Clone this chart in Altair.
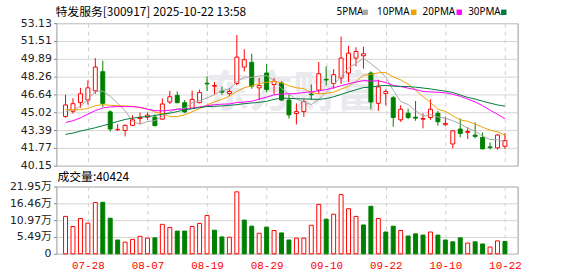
import json
import altair as alt
import pandas as pd

# ---------------- data ----------------
dates = ["07-23", "07-24", "07-25", "07-28", "07-29", "07-30", "07-31",
         "08-01", "08-04", "08-05", "08-06", "08-07", "08-08", "08-11", "08-12",
         "08-13", "08-14", "08-15", "08-18", "08-19", "08-20", "08-21", "08-22",
         "08-25", "08-26", "08-27", "08-28", "08-29",
         "09-01", "09-02", "09-03", "09-04", "09-05", "09-08", "09-09", "09-10",
         "09-11", "09-12", "09-15", "09-16", "09-17", "09-18", "09-19", "09-22",
         "09-23", "09-24", "09-25", "09-26", "09-29", "09-30",
         "10-09", "10-10", "10-13", "10-14", "10-15", "10-16", "10-17", "10-20",
         "10-21", "10-22"]

opens = [44.63, 45.11, 45.89, 46.13, 46.97, 48.71, 45.05, 43.42, 43.36, 43.82,
         44.45, 44.57, 44.57, 44.39, 45.95, 46.55, 45.89, 45.38, 45.89, 47.66,
         47.39, 46.94, 46.73, 47.63, 49.13, 49.56, 47.24, 48.59, 47.54, 47.69,
         46.13, 44.90, 45.08, 46.67, 47.03, 48.02, 47.63, 48.14, 48.59, 49.95,
         50.16, 48.59, 45.83, 46.73, 46.34, 44.33, 44.93, 44.57, 44.39, 44.54,
         44.93, 43.88, 42.13, 43.49, 43.18, 42.94, 42.73, 41.86, 41.77, 41.92]
highs = [46.61, 46.28, 47.24, 47.93, 49.95, 49.71, 45.20, 43.94, 43.91, 44.75,
         44.99, 44.99, 44.81, 46.28, 46.97, 46.91, 46.13, 47.00, 47.09, 48.29,
         47.78, 47.39, 47.21, 52.05, 50.76, 50.34, 48.14, 49.40, 48.14, 47.84,
         46.64, 45.83, 46.19, 47.54, 49.59, 49.19, 48.95, 51.90, 51.06, 50.94,
         51.00, 48.74, 47.99, 47.09, 46.49, 45.65, 45.35, 46.04, 44.93, 46.19,
         45.14, 44.63, 43.39, 44.45, 43.64, 44.09, 43.18, 42.28, 43.03, 43.12]
lows = [44.51, 44.90, 45.41, 45.71, 46.70, 45.50, 43.27, 43.33, 42.82, 43.79,
        43.94, 44.33, 43.76, 44.33, 45.77, 45.83, 44.93, 45.35, 45.83, 46.94,
        46.64, 46.61, 46.49, 47.48, 48.74, 47.15, 46.13, 46.85, 46.64, 46.04,
        44.45, 43.91, 44.60, 46.13, 46.70, 47.45, 47.15, 47.60, 47.78, 49.19,
        48.98, 45.29, 45.14, 45.65, 43.70, 44.15, 44.39, 44.24, 43.55, 44.33,
        43.79, 43.79, 41.74, 42.73, 42.58, 42.64, 41.65, 41.62, 41.62, 41.68]
closes = [45.68, 45.80, 46.70, 47.24, 49.13, 45.83, 43.49, 43.46, 43.82, 44.33,
          44.54, 44.75, 43.79, 45.77, 46.43, 45.89, 45.05, 46.19, 46.82, 47.60,
          47.45, 46.85, 46.91, 50.04, 49.80, 47.39, 47.45, 47.09, 47.84, 46.13,
          44.78, 45.08, 45.98, 46.61, 48.53, 47.96, 48.44, 49.95, 50.40, 50.55,
          50.34, 45.95, 47.33, 46.91, 44.54, 45.29, 44.54, 44.48, 44.45, 45.29,
          44.15, 44.00, 43.33, 43.09, 43.27, 42.82, 41.68, 41.80, 42.94, 42.43]
# volume in 万手
volumes = [12.2, 8.9, 11.5, 10.0, 16.7, 16.8, 11.6, 4.5, 3.8, 4.7,
           5.7, 5.1, 5.2, 9.6, 8.6, 7.4, 7.4, 8.9, 9.9, 12.5,
           7.7, 5.5, 5.4, 20.2, 11.0, 9.0, 6.7, 8.7, 7.6, 6.8,
           4.5, 5.1, 5.1, 9.3, 16.1, 11.3, 12.9, 19.3, 14.7, 12.2,
           9.4, 15.5, 11.5, 7.1, 9.0, 7.6, 5.8, 6.5, 6.1, 7.1,
           6.1, 4.5, 3.9, 5.2, 3.5, 3.9, 3.2, 2.2, 4.2, 4.0424]

# moving-average values before the window has enough visible closes
ma5_head = [45.11, 45.20, 45.56, 46.16]
ma10_head = [45.29, 45.22, 45.26, 45.35, 45.62, 45.71, 45.65, 45.62, 45.59]
ma20_head = [44.09, 44.24, 44.51, 44.84, 45.17, 45.41, 45.50, 45.53, 45.53, 45.53,
             45.47, 45.29, 45.17, 45.14, 45.20, 45.29, 45.29, 45.38, 45.50]
ma30_head = [43.00, 43.12, 43.30, 43.45, 43.61, 43.79, 43.97, 44.18, 44.36, 44.48,
             44.57, 44.63, 44.72, 44.84, 44.93, 45.08, 45.23, 45.35, 45.44, 45.53,
             45.56, 45.59, 45.65, 45.71, 45.80, 45.86, 45.92, 46.01, 46.19]

price_ticks = [53.13, 51.51, 49.89, 48.26, 46.64, 45.02, 43.39, 41.77, 40.15]
vol_ticks = [0, 5.49, 10.97, 16.46, 21.95]
date_tick_idx = [3, 11, 19, 27, 35, 43, 51, 59]

title_text = "特发服务[300917] 2025-10-22 13:58"
vol_title = "成交量:40424"
ma_names = ["5PMA", "10PMA", "20PMA", "30PMA"]
ma_colors = ["#a8a8a8", "#f0a000", "#ff00ff", "#007a3d"]

RED = "#ff0000"
GREEN = "#008000"
NUM_FONT = "DejaVu Sans, Noto Sans CJK SC"
CJK_FONT = "Noto Sans CJK SC"

# ---------------- frames ----------------
n = len(dates)
df = pd.DataFrame({"i": range(n), "date": dates, "open": opens, "high": highs,
                   "low": lows, "close": closes, "vol": volumes})
df["dir"] = ["up" if c >= o else "down" for o, c in zip(opens, closes)]
prev_close = df["close"].shift(1).fillna(df["open"])
df["vdir"] = ["up" if c >= p else "down" for c, p in zip(df["close"], prev_close)]


def moving(period, head):
    rolled = df["close"].rolling(period).mean()
    return list(head) + list(rolled.iloc[len(head):])


ma_rows = []
for name, period, head in zip(ma_names, [5, 10, 20, 30], [ma5_head, ma10_head, ma20_head, ma30_head]):
    for i, v in enumerate(moving(period, head)):
        ma_rows.append({"i": i, "name": name, "value": round(v, 3)})
df_ma = pd.DataFrame(ma_rows)

W = 466
H_MAIN = 144
H_VOL = 68

xscale = alt.Scale(domain=[-0.56, 60.04], nice=False, zero=False)
dir_stroke = alt.Scale(domain=["up", "down"], range=[RED, GREEN])
dir_fill = alt.Scale(domain=["up", "down"], range=["#ffffff", GREEN])

x_axis_main = alt.Axis(values=date_tick_idx, labels=False, ticks=False, domain=False,
                       grid=True, gridDash=[4, 4], gridColor="#cfcfcf", title=None)
yscale = alt.Scale(domain=[40.15, 53.13], nice=False, zero=False)
y_axis = alt.Axis(values=price_ticks, format=".2f", grid=True, gridColor="#d4d4d4",
                  tickColor="#888888", tickSize=3, domain=False, labelFont=NUM_FONT,
                  labelFontSize=11, labelColor="#222222", labelPadding=2, title=None,
                  labelFlush=False, labelOverlap=False)


def xm():
    return alt.X("i:Q", scale=xscale, axis=x_axis_main)


def ym(field):
    return alt.Y(field, scale=yscale, axis=y_axis)


watermark = alt.Chart(pd.DataFrame({"t": ["东方财富"]})).mark_text(
    font=CJK_FONT, fontSize=44, fontWeight="bold", color="#e9e9ee", align="center", baseline="middle"
).encode(x=alt.value(239), y=alt.value(72), text="t:N")

wick = alt.Chart(df).mark_rule(strokeWidth=1).encode(
    x=xm(), y=ym("low:Q"), y2="high:Q",
    color=alt.Color("dir:N", scale=dir_stroke, legend=None),
)
body = alt.Chart(df).mark_bar(size=4, strokeWidth=1).encode(
    x=xm(), y=ym("open:Q"), y2="close:Q",
    stroke=alt.Stroke("dir:N", scale=dir_stroke, legend=None),
    fill=alt.Fill("dir:N", scale=dir_fill, legend=None),
)
lines = alt.Chart(df_ma).mark_line(strokeWidth=1).encode(
    x=xm(), y=ym("value:Q"),
    color=alt.Color("name:N", scale=alt.Scale(domain=ma_names, range=ma_colors), legend=None),
)

title = alt.Chart(pd.DataFrame({"t": [title_text]})).mark_text(
    font=CJK_FONT, fontSize=12, align="left", baseline="middle", color="#000000"
).encode(x=alt.value(-1), y=alt.value(-11), text="t:N")

legend_layers = []
leg_text_x = [283, 324, 370, 416]
leg_box_x = [312, 361, 407, 452]
for name, col, tx, bx in zip(ma_names, ma_colors, leg_text_x, leg_box_x):
    legend_layers.append(
        alt.Chart(pd.DataFrame({"t": [name]})).mark_text(
            font="Noto Sans", fontSize=10, align="left", baseline="middle", color="#000000"
        ).encode(x=alt.value(tx), y=alt.value(-11), text="t:N")
    )
    legend_layers.append(
        alt.Chart(pd.DataFrame({"t": [name]})).mark_square(size=30, color=col, opacity=1)
        .encode(x=alt.value(bx), y=alt.value(-11))
    )

main = alt.layer(watermark, wick, body, lines, title, *legend_layers).resolve_scale(
    color="independent", stroke="independent", fill="independent"
).properties(width=W, height=H_MAIN)

# ---------------- volume ----------------
label_expr = json.dumps(dates) + "[datum.value]"
x_axis_vol = alt.Axis(values=date_tick_idx, labelExpr=label_expr, labelColor=RED,
                      labelFont="Liberation Mono", labelFontSize=11, ticks=False,
                      domain=False, grid=True, gridDash=[4, 4], gridColor="#cfcfcf",
                      labelFlush=False, labelOverlap=False, labelPadding=6, title=None)
vol_axis = alt.Axis(values=vol_ticks, format=".2f",
                    labelExpr="datum.value < 0.001 ? '' : datum.label + '万'",
                    grid=True, gridColor="#d4d4d4", tickColor="#888888", tickSize=3,
                    domain=False, labelFont=NUM_FONT, labelFontSize=11, labelColor="#222222",
                    labelPadding=2, title=None, labelFlush=False, labelOverlap=False)
vscale = alt.Scale(domain=[0, 21.95], nice=False)

vbars = alt.Chart(df).mark_bar(size=4, strokeWidth=1).encode(
    x=alt.X("i:Q", scale=xscale, axis=x_axis_vol),
    y=alt.Y("vol:Q", scale=vscale, axis=vol_axis),
    stroke=alt.Stroke("vdir:N", scale=dir_stroke, legend=None),
    fill=alt.Fill("vdir:N", scale=dir_fill, legend=None),
)
zero_label = alt.Chart(pd.DataFrame({"v": [0], "t": ["0"]})).mark_text(
    font=NUM_FONT, fontSize=11, align="right", baseline="middle", color="#222222"
).encode(x=alt.value(-5), y=alt.Y("v:Q", scale=vscale, axis=vol_axis), text="t:N")
vtitle = alt.Chart(pd.DataFrame({"t": [vol_title]})).mark_text(
    font=CJK_FONT, fontSize=12, align="left", baseline="middle", color="#000000"
).encode(x=alt.value(1), y=alt.value(-10), text="t:N")

vol = alt.layer(vbars, zero_label, vtitle).properties(width=W, height=H_VOL)

chart = alt.vconcat(main, vol, spacing=21, bounds="flush").properties(
    padding={"left": 9, "top": 4, "right": 56, "bottom": 0},
    background="#ffffff",
).configure_view(stroke="#999999", strokeWidth=1).configure_axis(
    labelFlush=False, labelOverlap=False
)

chart.save("out.html", embed_options={"renderer": "svg", "actions": False})
